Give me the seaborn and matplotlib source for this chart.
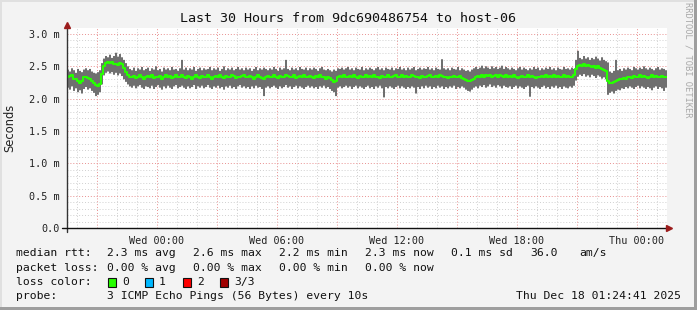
import numpy as np
import pandas as pd
import matplotlib
matplotlib.use("Agg")
import matplotlib.pyplot as plt
import matplotlib.patches as mpatches
import seaborn as sns

# ---------------- data (ms, 300 steps of 6 min, starting Tue 19:30) ----------------
start_hour = -4.5
step_hours = 0.1

median_ms = [
    2.33, 2.35, 2.36, 2.31, 2.30, 2.28, 2.24, 2.27, 2.33, 2.34,
    2.32, 2.30, 2.28, 2.25, 2.21, 2.20, 2.23, 2.38, 2.50, 2.55,
    2.57, 2.55, 2.56, 2.53, 2.54, 2.52, 2.55, 2.53, 2.47, 2.41,
    2.37, 2.34, 2.33, 2.35, 2.32, 2.34, 2.36, 2.33, 2.31, 2.34,
    2.35, 2.33, 2.36, 2.32, 2.34, 2.33, 2.35, 2.30, 2.34, 2.36,
    2.33, 2.35, 2.32, 2.34, 2.36, 2.33, 2.34, 2.37, 2.33, 2.32,
    2.35, 2.34, 2.31, 2.33, 2.36, 2.34, 2.32, 2.35, 2.33, 2.34,
    2.36, 2.33, 2.31, 2.34, 2.35, 2.33, 2.36, 2.34, 2.32, 2.35,
    2.34, 2.33, 2.36, 2.35, 2.32, 2.34, 2.33, 2.35, 2.37, 2.34,
    2.33, 2.35, 2.34, 2.31, 2.33, 2.36, 2.34, 2.32, 2.30, 2.33,
    2.35, 2.34, 2.33, 2.36, 2.34, 2.32, 2.35, 2.33, 2.34, 2.36,
    2.35, 2.33, 2.34, 2.36, 2.32, 2.34, 2.35, 2.33, 2.36, 2.34,
    2.33, 2.35, 2.34, 2.32, 2.35, 2.33, 2.36, 2.34, 2.33, 2.31,
    2.34, 2.32, 2.29, 2.26, 2.28, 2.33, 2.35, 2.34, 2.36, 2.33,
    2.34, 2.35, 2.33, 2.36, 2.34, 2.32, 2.35, 2.33, 2.34, 2.36,
    2.33, 2.35, 2.34, 2.36, 2.33, 2.34, 2.32, 2.35, 2.33, 2.34,
    2.36, 2.34, 2.33, 2.35, 2.37, 2.34, 2.33, 2.36, 2.34, 2.35,
    2.33, 2.34, 2.36, 2.35, 2.33, 2.34, 2.32, 2.35, 2.34, 2.33,
    2.35, 2.36, 2.34, 2.33, 2.35, 2.34, 2.36, 2.35, 2.33, 2.34,
    2.32, 2.34, 2.33, 2.35, 2.34, 2.33, 2.35, 2.32, 2.31, 2.29,
    2.28, 2.27, 2.29, 2.31, 2.34, 2.35, 2.33, 2.36, 2.34, 2.37,
    2.35, 2.36, 2.34, 2.35, 2.37, 2.34, 2.36, 2.35, 2.33, 2.36,
    2.34, 2.35, 2.33, 2.36, 2.34, 2.32, 2.34, 2.35, 2.33, 2.34,
    2.36, 2.33, 2.35, 2.34, 2.32, 2.34, 2.33, 2.35, 2.34, 2.36,
    2.33, 2.35, 2.34, 2.36, 2.33, 2.35, 2.34, 2.33, 2.36, 2.34,
    2.35, 2.33, 2.34, 2.36, 2.46, 2.50, 2.52, 2.51, 2.53, 2.50,
    2.52, 2.51, 2.49, 2.50, 2.48, 2.50, 2.47, 2.46, 2.45, 2.43,
    2.28, 2.25, 2.24, 2.26, 2.27, 2.29, 2.31, 2.30, 2.32, 2.31,
    2.33, 2.34, 2.32, 2.35, 2.33, 2.34, 2.36, 2.33, 2.35, 2.34,
    2.32, 2.34, 2.36, 2.33, 2.35, 2.34, 2.33, 2.35, 2.34, 2.33,
]
high_ms = [
    2.45, 2.42, 2.47, 2.44, 2.40, 2.46, 2.43, 2.41, 2.45, 2.47,
    2.44, 2.46, 2.42, 2.40, 2.39, 2.41, 2.44, 2.55, 2.62, 2.66,
    2.64, 2.68, 2.63, 2.66, 2.71, 2.65, 2.69, 2.64, 2.60, 2.55,
    2.50, 2.46, 2.44, 2.48, 2.43, 2.47, 2.45, 2.49, 2.44, 2.46,
    2.48, 2.43, 2.47, 2.45, 2.50, 2.44, 2.46, 2.42, 2.48, 2.45,
    2.47, 2.44, 2.49, 2.45, 2.46, 2.43, 2.47, 2.60, 2.45, 2.48,
    2.44, 2.47, 2.45, 2.49, 2.43, 2.46, 2.48, 2.44, 2.47, 2.45,
    2.46, 2.49, 2.44, 2.47, 2.45, 2.48, 2.43, 2.46, 2.50, 2.44,
    2.47, 2.45, 2.48, 2.44, 2.46, 2.49, 2.45, 2.47, 2.44, 2.48,
    2.45, 2.47, 2.43, 2.46, 2.49, 2.44, 2.47, 2.45, 2.48, 2.46,
    2.44, 2.47, 2.45, 2.49, 2.46, 2.43, 2.48, 2.45, 2.47, 2.60,
    2.46, 2.44, 2.48, 2.45, 2.47, 2.44, 2.49, 2.46, 2.45, 2.48,
    2.44, 2.47, 2.45, 2.48, 2.46, 2.43, 2.47, 2.49, 2.45, 2.44,
    2.46, 2.44, 2.42, 2.45, 2.43, 2.47, 2.46, 2.48, 2.45, 2.47,
    2.49, 2.45, 2.47, 2.44, 2.48, 2.46, 2.45, 2.49, 2.44, 2.47,
    2.45, 2.48, 2.46, 2.44, 2.47, 2.49, 2.45, 2.47, 2.44, 2.48,
    2.46, 2.45, 2.48, 2.44, 2.47, 2.46, 2.49, 2.45, 2.47, 2.44,
    2.48, 2.45, 2.47, 2.49, 2.44, 2.46, 2.48, 2.45, 2.47, 2.46,
    2.49, 2.45, 2.47, 2.44, 2.48, 2.46, 2.45, 2.61, 2.47, 2.45,
    2.47, 2.44, 2.48, 2.46, 2.45, 2.49, 2.44, 2.47, 2.45, 2.43,
    2.44, 2.42, 2.45, 2.47, 2.49, 2.46, 2.48, 2.51, 2.47, 2.50,
    2.48, 2.46, 2.50, 2.47, 2.49, 2.46, 2.48, 2.51, 2.46, 2.49,
    2.47, 2.45, 2.48, 2.46, 2.44, 2.47, 2.49, 2.45, 2.48, 2.46,
    2.44, 2.47, 2.45, 2.49, 2.46, 2.48, 2.44, 2.47, 2.45, 2.48,
    2.46, 2.49, 2.45, 2.47, 2.44, 2.48, 2.46, 2.45, 2.49, 2.46,
    2.47, 2.45, 2.48, 2.46, 2.60, 2.74, 2.63, 2.61, 2.66, 2.62,
    2.64, 2.60, 2.63, 2.61, 2.65, 2.62, 2.59, 2.64, 2.60, 2.58,
    2.56, 2.42, 2.40, 2.43, 2.60, 2.44, 2.46, 2.43, 2.47, 2.45,
    2.48, 2.46, 2.44, 2.49, 2.47, 2.45, 2.48, 2.46, 2.50, 2.47,
    2.45, 2.48, 2.46, 2.44, 2.47, 2.49, 2.45, 2.47, 2.46, 2.44,
]
low_ms = [
    2.17, 2.14, 2.19, 2.12, 2.16, 2.10, 2.13, 2.08, 2.15, 2.18,
    2.14, 2.16, 2.12, 2.09, 2.04, 2.06, 2.10, 2.22, 2.36, 2.40,
    2.42, 2.39, 2.41, 2.37, 2.40, 2.36, 2.39, 2.35, 2.30, 2.26,
    2.22, 2.19, 2.17, 2.20, 2.16, 2.19, 2.21, 2.17, 2.15, 2.19,
    2.18, 2.16, 2.20, 2.15, 2.18, 2.21, 2.17, 2.14, 2.19, 2.16,
    2.20, 2.17, 2.15, 2.19, 2.21, 2.16, 2.18, 2.20, 2.17, 2.15,
    2.19, 2.16, 2.18, 2.21, 2.15, 2.19, 2.17, 2.20, 2.16, 2.18,
    2.21, 2.17, 2.15, 2.19, 2.17, 2.20, 2.16, 2.18, 2.14, 2.19,
    2.17, 2.20, 2.16, 2.18, 2.15, 2.19, 2.21, 2.17, 2.19, 2.16,
    2.18, 2.15, 2.19, 2.16, 2.20, 2.17, 2.18, 2.15, 2.04, 2.17,
    2.19, 2.16, 2.18, 2.20, 2.17, 2.15, 2.19, 2.16, 2.18, 2.21,
    2.17, 2.19, 2.15, 2.18, 2.20, 2.16, 2.19, 2.17, 2.15, 2.18,
    2.20, 2.17, 2.19, 2.16, 2.18, 2.15, 2.19, 2.17, 2.20, 2.16,
    2.18, 2.15, 2.12, 2.10, 2.04, 2.17, 2.19, 2.16, 2.18, 2.20,
    2.17, 2.19, 2.15, 2.18, 2.20, 2.16, 2.19, 2.17, 2.15, 2.18,
    2.20, 2.16, 2.18, 2.15, 2.19, 2.17, 2.20, 2.16, 2.02, 2.18,
    2.16, 2.19, 2.17, 2.15, 2.18, 2.20, 2.16, 2.19, 2.17, 2.15,
    2.18, 2.16, 2.19, 2.17, 2.08, 2.18, 2.15, 2.19, 2.16, 2.20,
    2.17, 2.19, 2.15, 2.18, 2.16, 2.20, 2.17, 2.19, 2.15, 2.18,
    2.16, 2.19, 2.17, 2.20, 2.15, 2.18, 2.16, 2.19, 2.17, 2.14,
    2.12, 2.11, 2.14, 2.17, 2.19, 2.16, 2.20, 2.18, 2.21, 2.17,
    2.19, 2.22, 2.18, 2.20, 2.17, 2.21, 2.19, 2.16, 2.20, 2.18,
    2.17, 2.19, 2.15, 2.18, 2.20, 2.16, 2.19, 2.17, 2.15, 2.18,
    2.20, 2.03, 2.18, 2.16, 2.19, 2.17, 2.15, 2.18, 2.20, 2.16,
    2.18, 2.15, 2.19, 2.17, 2.20, 2.16, 2.18, 2.15, 2.19, 2.17,
    2.16, 2.19, 2.17, 2.20, 2.28, 2.34, 2.37, 2.35, 2.38, 2.34,
    2.36, 2.33, 2.37, 2.35, 2.32, 2.36, 2.34, 2.31, 2.33, 2.30,
    2.06, 2.09, 2.11, 2.08, 2.12, 2.14, 2.13, 2.16, 2.15, 2.18,
    2.16, 2.19, 2.17, 2.15, 2.18, 2.20, 2.16, 2.19, 2.17, 2.15,
    2.18, 2.16, 2.13, 2.17, 2.19, 2.15, 2.18, 2.16, 2.12, 2.17,
]

x_tick_hours = [0, 6, 12, 18, 24]
x_tick_labels = ["Wed 00:00", "Wed 06:00", "Wed 12:00", "Wed 18:00", "Thu 00:00"]
y_tick_values = [0.0, 0.5, 1.0, 1.5, 2.0, 2.5, 3.0]
y_tick_labels = ["0.0", "0.5 m", "1.0 m", "1.5 m", "2.0 m", "2.5 m", "3.0 m"]

title = "Last 30 Hours from 9dc690486754 to host-06"
rtt_label = "median rtt:"
rtt_items = ["2.3 ms avg", "2.6 ms max", "2.2 ms min", "2.3 ms now", "0.1 ms sd", "36.0", "am/s"]
loss_label = "packet loss:"
loss_items = ["0.00 % avg", "0.00 % max", "0.00 % min", "0.00 % now"]
loss_labels = ["0", "1", "2", "3/3"]
loss_colors = ["#26ff00", "#00b8ff", "#ff0000", "#a00000"]
probe_text = "3 ICMP Echo Pings (56 Bytes) every 10s"
timestamp_text = "Thu Dec 18 01:24:41 2025"

# ---------------- figure ----------------
sns.set_style("white")
plt.rcParams["font.family"] = ["DejaVu Sans Mono", "DejaVu Sans"]

W, H = 697, 310
fig = plt.figure(figsize=(W / 100, H / 100), dpi=100, facecolor="#f3f3f3")

def fx(px):
    return px / W

def fy(py):
    return 1 - py / H

# plot area: x 67..667, y 28..228
ax = fig.add_axes([fx(67), fy(228), fx(600), 200 / H])
ax.set_facecolor("white")

n = len(median_ms)
edges = start_hour + step_hours * np.arange(n + 1)
ax.set_xlim(-4.5, 25.5)
ax.set_ylim(0, 3.093)

# grid
for h in np.arange(-4, 26, 1):
    if h % 3 == 0:
        continue
    ax.axvline(h, color="#d0d0d0", lw=0.7, ls=(0, (1, 2)), zorder=0)
for h in np.arange(-3, 26, 3):
    ax.axvline(h, color="#e89090", lw=0.7, ls=(0, (1, 2)), zorder=0)
for v in np.arange(0.1, 3.1, 0.1):
    if abs(v * 2 - round(v * 2)) < 1e-6:
        continue
    ax.axhline(v, color="#d0d0d0", lw=0.7, ls=(0, (1, 2)), zorder=0)
for v in [0.5, 1.0, 1.5, 2.0, 2.5, 3.0]:
    ax.axhline(v, color="#e89090", lw=0.7, ls=(0, (1, 2)), zorder=0)

# smoke band
ax.stairs(high_ms, edges, baseline=low_ms, fill=True, color="#6f6f6f", lw=0, zorder=2)

# median line
df = pd.DataFrame({"hour": edges, "median": list(median_ms) + [median_ms[-1]]})
sns.lineplot(data=df, x="hour", y="median", ax=ax, color="#26ff00", lw=1.5,
             drawstyle="steps-post", estimator=None, zorder=3)

ax.set_xlabel("")
ax.set_ylabel("")
for s in ax.spines.values():
    s.set_visible(False)

ax.set_xticks(x_tick_hours)
ax.set_xticklabels(x_tick_labels, fontsize=7.3, color="#222222")
ax.set_yticks(y_tick_values)
ax.set_yticklabels(y_tick_labels, fontsize=7.3, color="#222222")
ax.tick_params(axis="x", length=3, width=0.8, color="#444444", pad=3)
ax.tick_params(axis="y", length=3, width=0.8, color="#444444", pad=2)

# axis lines with arrows
ax.plot([0, 0], [-0.02, 1.0], transform=ax.transAxes, color="#333333", lw=1.0, clip_on=False, zorder=5)
ax.plot([-0.008, 1.0], [0, 0], transform=ax.transAxes, color="#111111", lw=1.0, clip_on=False, zorder=5)
ax.plot([1.004], [0], transform=ax.transAxes, marker=">", color="#9b1c1c", ms=5, clip_on=False, zorder=6)
ax.plot([0], [1.015], transform=ax.transAxes, marker="^", color="#9b1c1c", ms=5, clip_on=False, zorder=6)

# y label
fig.text(fx(10), fy(128), "Seconds", rotation=90, ha="center", va="center",
         fontsize=8.3, family="DejaVu Sans", color="#222222")

# title
fig.text(fx(348), fy(19), title, ha="center", va="center", fontsize=9.6, color="#111111")

# watermark
fig.text(fx(688), fy(60), "RRDTOOL / TOBI OETIKER", rotation=-90, ha="center", va="center",
         fontsize=6.3, color="#a8a8a8")

# legend
lg_fs = 8.2
rtt_x = [107, 193, 279, 365, 451, 530, 579]
loss_x = [107, 193, 279, 365]
fig.text(fx(16), fy(253), rtt_label, ha="left", va="center", fontsize=lg_fs, color="#111111")
for txt, xx in zip(rtt_items, rtt_x):
    fig.text(fx(xx), fy(253), txt, ha="left", va="center", fontsize=lg_fs, color="#111111")
fig.text(fx(16), fy(268), loss_label, ha="left", va="center", fontsize=lg_fs, color="#111111")
for txt, xx in zip(loss_items, loss_x):
    fig.text(fx(xx), fy(268), txt, ha="left", va="center", fontsize=lg_fs, color="#111111")

fig.text(fx(16), fy(282), "loss color:", ha="left", va="center", fontsize=lg_fs, color="#111111")
sw_x = [108, 145, 183, 220]
for lab, col, xx in zip(loss_labels, loss_colors, sw_x):
    fig.add_artist(mpatches.Rectangle((fx(xx), fy(287)), fx(8), 9 / H, transform=fig.transFigure,
                                      facecolor=col, edgecolor="#111111", lw=0.8))
    fig.text(fx(xx + 14), fy(282), lab, ha="left", va="center", fontsize=lg_fs, color="#111111")

fig.text(fx(16), fy(296), "probe:", ha="left", va="center", fontsize=lg_fs, color="#111111")
fig.text(fx(107), fy(296), probe_text, ha="left", va="center", fontsize=lg_fs, color="#111111")
fig.text(fx(681), fy(296), timestamp_text, ha="right", va="center", fontsize=lg_fs, color="#111111")

# 3D-ish frame
fig.add_artist(mpatches.Rectangle((0, 0), 1, 3 / H, transform=fig.transFigure, facecolor="#9e9e9e", lw=0))
fig.add_artist(mpatches.Rectangle((1 - 3 / W, 0), 3 / W, 1, transform=fig.transFigure, facecolor="#9e9e9e", lw=0))
fig.add_artist(mpatches.Rectangle((0, 1 - 2 / H), 1 - 3 / W, 2 / H, transform=fig.transFigure, facecolor="#e0e0e0", lw=0))
fig.add_artist(mpatches.Rectangle((0, 3 / H), 2 / W, 1, transform=fig.transFigure, facecolor="#e0e0e0", lw=0))

fig.savefig("out.png", dpi=100, facecolor=fig.get_facecolor())
